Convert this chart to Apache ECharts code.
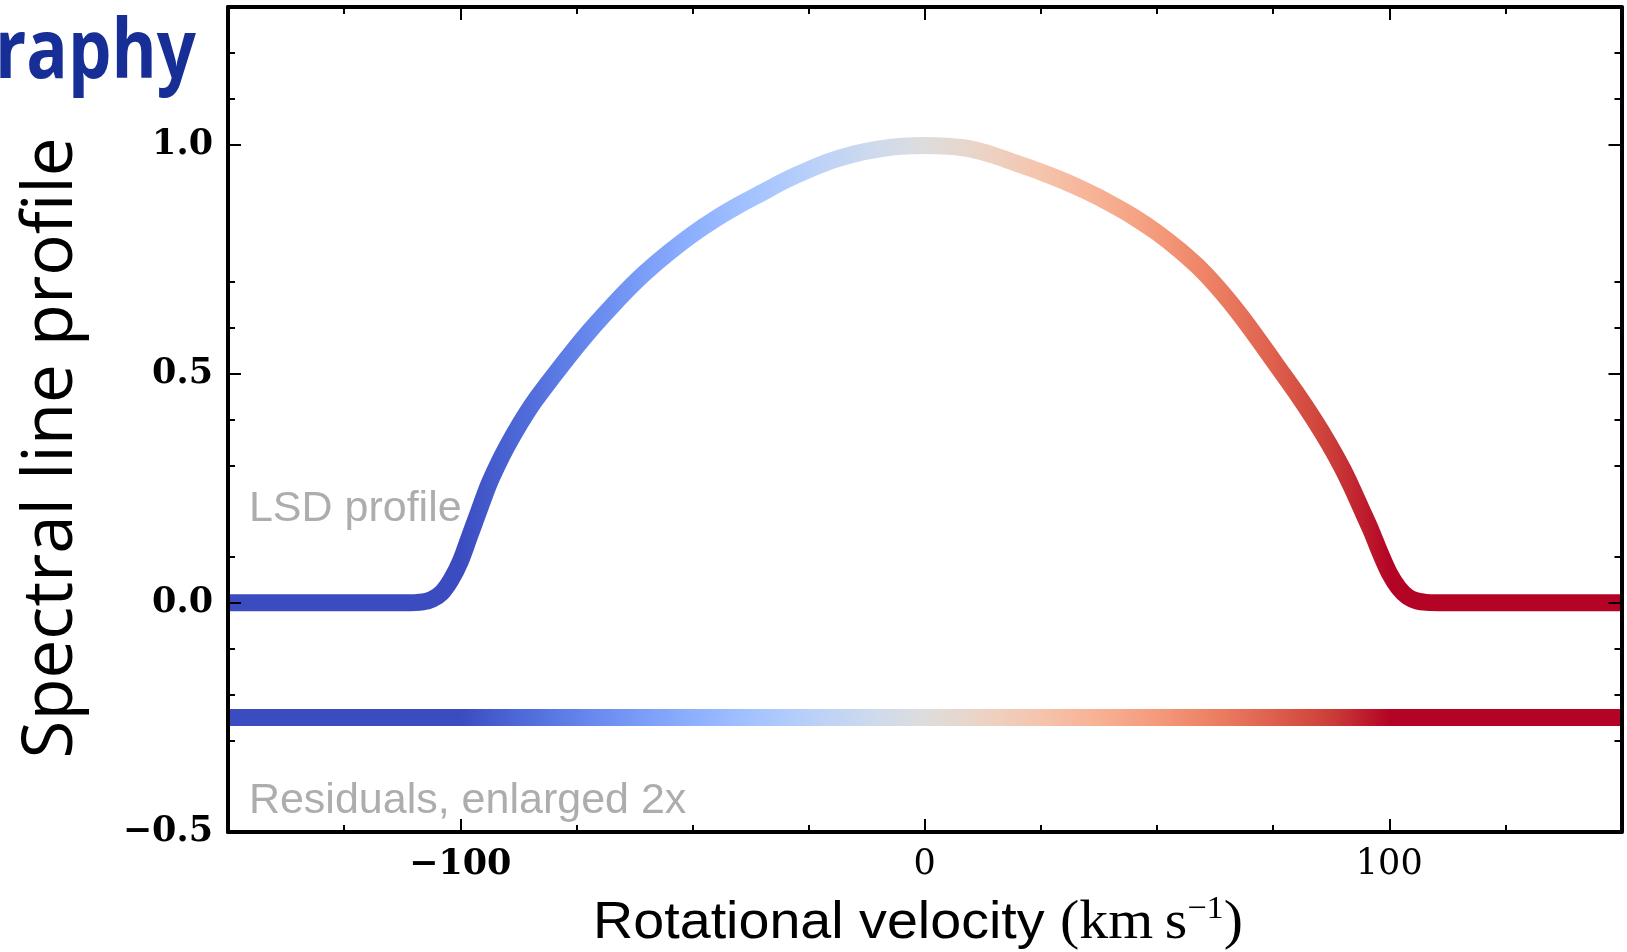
<!DOCTYPE html>
<html>
<head>
<meta charset="utf-8">
<script src="https://cdn.jsdelivr.net/npm/echarts@6/dist/echarts.min.js"></script>
<style>
  html, body { margin: 0; padding: 0; background: #ffffff; }
  #chart { width: 1627px; height: 952px; }
</style>
</head>
<body>
<div id="chart"></div>
<script>
// Rotational velocity grid (km/s) and the LSD line profile on it
const velocity = [-150, -140, -130, -120, -112, -108, -106, -104, -102, -100, -98, -96, -94, -92, -90, -87, -84, -80, -76, -72, -68, -64, -60, -55, -50, -45, -40, -35, -30, -25, -20, -15, -10, -5, 0, 5, 10, 15, 20, 25, 30, 35, 40, 45, 50, 55, 60, 64, 68, 72, 76, 80, 84, 87, 90, 92, 94, 96, 98, 100, 102, 104, 106, 108, 112, 120, 130, 140, 150];
const lsdProfile = [0, 0, 0, 0, 0, 0.002, 0.008, 0.022, 0.05, 0.09, 0.145, 0.2, 0.255, 0.3, 0.34, 0.393, 0.44, 0.494, 0.546, 0.595, 0.64, 0.683, 0.722, 0.765, 0.804, 0.838, 0.868, 0.895, 0.922, 0.945, 0.965, 0.98, 0.99, 0.996, 0.998, 0.996, 0.99, 0.976, 0.958, 0.94, 0.92, 0.897, 0.871, 0.842, 0.808, 0.768, 0.722, 0.677, 0.627, 0.572, 0.515, 0.458, 0.397, 0.347, 0.292, 0.25, 0.205, 0.16, 0.11, 0.065, 0.033, 0.013, 0.004, 0.001, 0, 0, 0, 0, 0];

// Residuals (shifted below the profile)
const residualVelocity = [-150, -100, -50, 0, 50, 100, 150];
const residuals = [-0.25, -0.25, -0.25, -0.25, -0.25, -0.25, -0.25];

// Ticks and tick labels
const xMajorTicks = [-100, 0, 100];
const xTickLabels = ['\u2212100', '0', '100'];
const xMinorTicks = [-125, -75, -50, -25, 25, 50, 75, 125];
const yMajorTicks = [-0.5, 0, 0.5, 1.0];
const yTickLabels = ['\u22120.5', '0.0', '0.5', '1.0'];
const yMinorTicks = [-0.3, -0.2, -0.1, 0.1, 0.3, 0.4, 0.6, 0.7, 1.1, 1.2];

// In-plot text labels
const annotationVelocity = [-145.5, -145.5];
const annotationLevel = [0.205, -0.432];
const annotationText = ['LSD profile', 'Residuals, enlarged 2x'];

// Diverging blue-to-red colour map, keyed on velocity
const coolwarm = ['#3b4cc0', '#4d68d7', '#6282ea', '#779af7', '#8db0fe', '#a3c2ff', '#b8d0f9', '#ccd9ee', '#dddddd',
                  '#ecd3c5', '#f5c4ad', '#f7b194', '#f49a7b', '#ec7f63', '#de604d', '#cb3e38', '#b40426'];

const serif = 'DejaVu Serif';
const sans = 'Liberation Sans';

function lookup(values, labels, v) {
  const i = values.findIndex(t => Math.abs(t - v) < 1e-9);
  return i < 0 ? '' : labels[i];
}

function xAxisDef(position, ticks, len, withLine, withLabels) {
  return {
    type: 'value', position: position, min: -150, max: 150, z: 10,
    axisLine: { show: withLine, onZero: false, lineStyle: { color: '#000', width: 4 } },
    axisTick: { show: true, inside: true, length: len, customValues: ticks, lineStyle: { color: '#000', width: 2 } },
    axisLabel: withLabels ? {
      show: true, customValues: ticks, margin: 15,
      formatter: v => (v < 0 ? '{b|' : '{n|') + lookup(xMajorTicks, xTickLabels, v) + '}',
      rich: {
        b: { fontFamily: serif, fontWeight: 'bold', fontSize: 35, color: '#000' },
        n: { fontFamily: serif, fontWeight: 'normal', fontSize: 35, color: '#000' }
      }
    } : { show: false },
    splitLine: { show: false }
  };
}

function yAxisDef(position, ticks, len, withLine, withLabels) {
  return {
    type: 'value', position: position, min: -0.5, max: 1.3, z: 10,
    axisLine: { show: withLine, onZero: false, lineStyle: { color: '#000', width: 4 } },
    axisTick: { show: true, inside: true, length: len, customValues: ticks, lineStyle: { color: '#000', width: 2 } },
    axisLabel: withLabels ? {
      show: true, customValues: ticks, margin: 15,
      fontFamily: serif, fontWeight: 'bold', fontSize: 35, color: '#000',
      formatter: v => lookup(yMajorTicks, yTickLabels, v)
    } : { show: false },
    splitLine: { show: false }
  };
}

const chart = echarts.init(document.getElementById('chart'), null, { renderer: 'canvas' });

chart.setOption({
  animation: false,
  backgroundColor: '#ffffff',
  grid: { left: 228, right: 5.5, top: 7, bottom: 120, outerBoundsMode: 'none' },
  xAxis: [
    xAxisDef('bottom', xMajorTicks, 13, true, true),
    xAxisDef('bottom', xMinorTicks, 7, false, false),
    xAxisDef('top', xMajorTicks, 13, true, false),
    xAxisDef('top', xMinorTicks, 7, false, false)
  ],
  yAxis: [
    yAxisDef('left', yMajorTicks, 13, true, true),
    yAxisDef('left', yMinorTicks, 7, false, false),
    yAxisDef('right', yMajorTicks, 13, true, false),
    yAxisDef('right', yMinorTicks, 7, false, false)
  ],
  visualMap: {
    type: 'continuous', show: false, dimension: 0, seriesIndex: [0, 1],
    min: -100, max: 100, inRange: { color: coolwarm }
  },
  series: [
    {
      type: 'line', xAxisIndex: 0, yAxisIndex: 0, showSymbol: false, smooth: 0.3,
      data: velocity.map((v, i) => [v, lsdProfile[i]]),
      lineStyle: { width: 17, join: 'round', cap: 'butt' }
    },
    {
      type: 'line', xAxisIndex: 0, yAxisIndex: 0, showSymbol: false,
      data: residualVelocity.map((v, i) => [v, residuals[i]]),
      lineStyle: { width: 17, cap: 'butt' }
    },
    {
      type: 'scatter', xAxisIndex: 0, yAxisIndex: 0, symbolSize: 0, silent: true,
      data: annotationText.map((t, i) => [annotationVelocity[i], annotationLevel[i], t]),
      label: {
        show: true, position: 'right', distance: 0,
        formatter: p => p.value[2],
        fontFamily: sans, fontSize: 43, color: '#999999'
      }
    }
  ],
  graphic: [
    {
      type: 'text', x: 196, y: 55, z: 20, scaleX: 0.84,
      style: { text: 'raphy', fill: '#172e96', fontFamily: 'Open Sans', fontWeight: 'bold', fontSize: 82, align: 'right', verticalAlign: 'middle' }
    },
    {
      type: 'text', x: 52, y: 448, rotation: Math.PI / 2, z: 20,
      style: { text: 'Spectral line profile', fill: '#000', fontFamily: 'Open Sans', fontSize: 69, align: 'center', verticalAlign: 'middle' }
    },
    {
      type: 'text', x: 918, y: 924, z: 20, scaleX: 1.07,
      style: {
        text: '{a|Rotational velocity }{b|(km\u2009s}{c|\u22121}{b|)}',
        align: 'center', verticalAlign: 'middle',
        rich: {
          a: { fontFamily: sans, fontSize: 52, lineHeight: 60, fill: '#000' },
          b: { fontFamily: 'Liberation Serif', fontSize: 54, lineHeight: 60, fill: '#000' },
          c: { fontFamily: 'Liberation Serif', fontSize: 32, lineHeight: 30, verticalAlign: 'top', fill: '#000' }
        }
      }
    }
  ]
});
</script>
</body>
</html>
